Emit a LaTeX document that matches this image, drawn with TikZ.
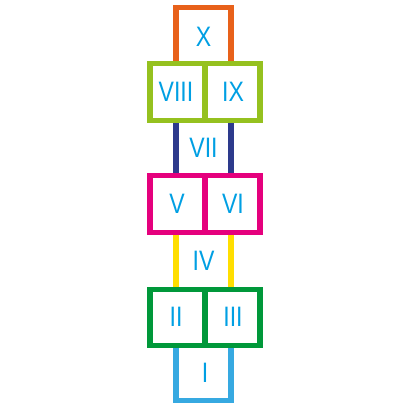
\documentclass[tikz,border=0pt]{standalone}
\usepackage{fontspec}
\setmainfont{Liberation Sans}[FakeStretch=0.82]

\definecolor{numblue}{HTML}{009FE3}
\definecolor{tileorange}{HTML}{E8611A}
\definecolor{tilelime}{HTML}{95C11F}
\definecolor{tilenavy}{HTML}{2D3A8C}
\definecolor{tilepink}{HTML}{E5007D}
\definecolor{tileyellow}{HTML}{FFDE00}
\definecolor{tilegreen}{HTML}{00983A}
\definecolor{tilesky}{HTML}{36A9E1}

\begin{document}
\begin{tikzpicture}[x=0.025cm, y=-0.025cm,
    tile/.style={line width=0.125cm},
    num/.style={text=numblue, inner sep=0pt, font=\fontsize{20pt}{20pt}\selectfont}]
  \useasboundingbox (0,0) rectangle (410,410);

  % single squares
  \draw[tile, tileorange] (176,7.5) rectangle (231,63.2);
  \draw[tile, tilenavy] (176,120.2) rectangle (231,175.8);
  \draw[tile, tileyellow] (176,232.5) rectangle (231,289.2);
  \draw[tile, tilesky] (176,345) rectangle (231,400.8);

  % double squares
  \draw[tile, tilelime] (150,63.2) rectangle (260,120.2) (205,63.2) -- (205,120.2);
  \draw[tile, tilepink] (150,175.8) rectangle (260,232.5) (205,175.8) -- (205,232.5);
  \draw[tile, tilegreen] (150,289.2) rectangle (260,345) (205,289.2) -- (205,345);

  % numbers
  \node[num] (n10) at (203.5,36.5) {X};
  \node[num] (n8) at (176,91.7) {VIII};
  \node[num] (n9) at (233,91.7) {IX};
  \node[num] (n7) at (203.5,148) {VII};
  \node[num] (n5) at (177,204.2) {V};
  \node[num] (n6) at (233,204.2) {VI};
  \node[num] (n4) at (203.5,260.9) {IV};
  \node[num] (n2) at (176,317) {II};
  \node[num] (n3) at (233,317) {III};
  \node[num] (n1) at (205,373) {I};
\end{tikzpicture}
\end{document}
